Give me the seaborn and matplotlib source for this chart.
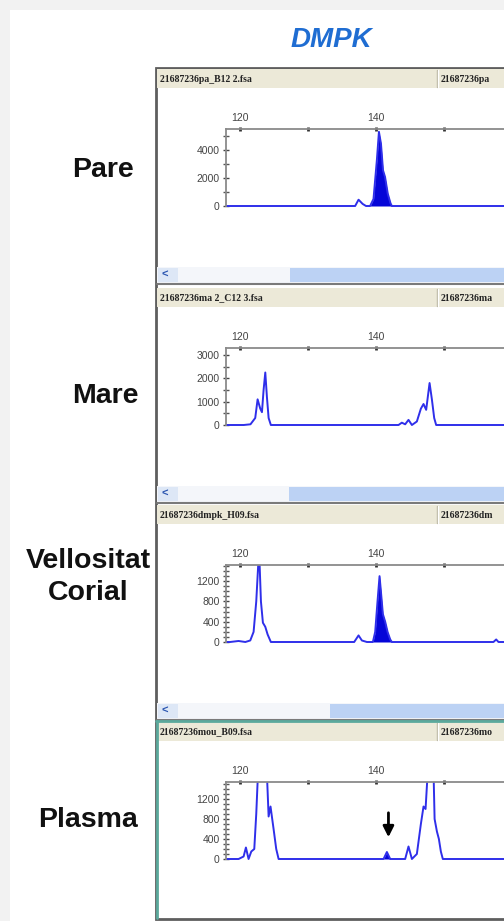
import matplotlib
matplotlib.use("Agg")
import matplotlib.pyplot as plt
from matplotlib.patches import Rectangle
import numpy as np
import seaborn as sns

sns.set_style("white")
plt.rcParams['font.family'] = ['Liberation Sans', 'DejaVu Sans']

W, H = 504, 921

title = "DMPK"
sample_names = ["Pare", "Mare", "Vellositat\nCorial", "Plasma"]
file_names = ["21687236pa_B12 2.fsa", "21687236ma 2_C12 3.fsa",
              "21687236dmpk_H09.fsa", "21687236mou_B09.fsa"]
file_tabs = ["21687236pa", "21687236ma", "21687236dm", "21687236mo"]

# size (bp) vs RFU
pare_bp = [117.9, 136.9, 137.4, 138.0, 138.5, 139.1, 139.6, 140.1, 140.4, 140.7,
           141.0, 141.3, 141.7, 142.1, 142.3, 158.8]
pare_rfu = [0, 0, 450, 150, 0, 0, 500, 3300, 5300, 4450,
            2550, 2070, 880, 200, 0, 0]
pare_fill = (139.1, 142.3)

mare_bp = [117.9, 120.5, 121.5, 122.2, 122.55, 122.94, 123.19, 123.43, 123.68, 123.92,
           124.17, 124.5, 143.28, 143.77, 144.26, 144.75, 145.25, 145.98, 146.57, 146.96,
           147.35, 147.85, 148.19, 148.53, 148.82, 158.8]
mare_rfu = [0, 0, 30, 300, 1100, 700, 550, 1500, 2250, 1200,
            300, 0, 0, 100, 30, 220, 0, 150, 700, 900,
            650, 1800, 1100, 300, 0, 0]
mare_fill = None

vc_bp = [117.9, 118.5, 119.75, 120.74, 121.47, 121.96, 122.35, 122.65, 122.84, 123.04,
         123.33, 123.68, 124.02, 124.5, 136.76, 137.4, 137.89, 138.63, 139.51, 139.85,
         140.19, 140.49, 140.69, 140.98, 141.32, 141.67, 142.06, 142.3, 157.25, 157.65,
         157.99, 158.8]
vc_rfu = [0, 0, 20, 0, 30, 200, 800, 1550, 1550, 800,
          380, 300, 150, 0, 0, 130, 30, 0, 0, 200,
          800, 1300, 1000, 550, 400, 200, 50, 0, 0, 50,
          0, 0]
vc_fill = (139.5, 142.3)

pl_bp = [117.9, 119.75, 120.49, 120.83, 121.22, 121.62, 122.06, 122.35, 122.6, 123.92,
         124.17, 124.45, 124.9, 125.29, 125.64, 141.08, 141.57, 142.06, 144.26, 144.75,
         145.25, 145.98, 146.57, 146.96, 147.26, 147.56, 148.44, 148.59, 148.93, 149.22,
         149.51, 149.8, 158.8]
pl_rfu = [0, 0, 50, 230, 0, 150, 200, 900, 1700, 1700,
          850, 1050, 600, 200, 0, 0, 140, 0, 0, 250,
          0, 100, 700, 1050, 1000, 1700, 1700, 800, 550, 400,
          150, 0, 0]
pl_fill = (141.0, 142.1)
pl_arrow_bp = 141.8
pl_arrow_rfu = (980, 380)

traces = [(pare_bp, pare_rfu, pare_fill), (mare_bp, mare_rfu, mare_fill),
          (vc_bp, vc_rfu, vc_fill), (pl_bp, pl_rfu, pl_fill)]
y_tops = [5500, 3300, 1520, 1540]
y_major = [2000, 1000, 400, 400]
y_minor = [1000, 500, 100, 100]
x_major = [120, 140]
x_minor = [130, 150]

header_tops = [69, 288, 505, 722]
thumb_starts = [290, 289, 330]
label_x = [103, 105, 88, 88]
label_y = [177, 403, 600, 827]

fig = plt.figure(figsize=(W / 100, H / 100), dpi=100)
fig.patch.set_facecolor('#f2f2f2')

deco = fig.add_axes([0, 0, 1, 1])
deco.set_xlim(0, W)
deco.set_ylim(H, 0)
deco.axis('off')
deco.set_zorder(0)

deco.add_patch(Rectangle((10, 10), W, H, color='white', lw=0))
deco.text(331, 47, title, ha='center', va='baseline', fontsize=20,
          fontweight='bold', fontstyle='italic', color='#1f6dd2')

# panel box
deco.add_patch(Rectangle((156, 68), 360, 851, facecolor='white',
                         edgecolor='#5e5e5e', lw=2))

for i, h in enumerate(header_tops):
    deco.add_patch(Rectangle((157, h), 350, 19, color='#ece9d8', lw=0))
    deco.plot([437, 437], [h + 1, h + 18], color='#b5b19c', lw=1)
    deco.plot([438, 438], [h + 1, h + 18], color='white', lw=1)
    deco.text(160, h + 10, file_names[i], ha='left', va='center', fontsize=7,
              fontweight='bold', family='Liberation Serif', color='#222222')
    deco.text(441, h + 10, file_tabs[i], ha='left', va='center', fontsize=7,
              fontweight='bold', family='Liberation Serif', color='#222222',
              clip_on=True)
    if i < 3:
        sy = h + 198
        deco.add_patch(Rectangle((157, sy), 350, 16, color='#f4f6fa', lw=0))
        deco.add_patch(Rectangle((158, sy + 1), 20, 14, color='#dde7f6', lw=0))
        deco.text(165, sy + 8, "<", ha='center', va='center', fontsize=8,
                  fontweight='bold', color='#2a55b0')
        deco.add_patch(Rectangle((thumb_starts[i], sy + 1), 220, 14,
                                 color='#bcd2f4', lw=0))
        deco.plot([157, W], [sy + 17, sy + 17], color='#7a7a7a', lw=1.5)

# selected panel frame
deco.plot([156, W], [721, 721], color='#5ba99c', lw=2)
deco.plot([157, 157], [721, 918], color='#5ba99c', lw=2)

for i, name in enumerate(sample_names):
    if "\n" in name:
        top, bottom = name.split("\n")
        deco.text(label_x[i], label_y[i] - 32, top, ha='center', va='baseline',
                  fontsize=20.5, fontweight='bold', color='#111111')
        deco.text(label_x[i], label_y[i], bottom, ha='center', va='baseline',
                  fontsize=20.5, fontweight='bold', color='#111111')
    else:
        deco.text(label_x[i], label_y[i], name, ha='center', va='baseline',
                  fontsize=20.5, fontweight='bold', color='#111111')

line_col = '#2f2fea'
fill_col = '#0505d8'

for i, (bp, rfu, fill) in enumerate(traces):
    h = header_tops[i]
    top_px = h + 60
    base_px = h + 137
    per_px = y_tops[i] / (base_px - top_px)
    ymin = -1.5 * per_px
    bottom_px = base_px + 1.5
    ax = fig.add_axes([226 / W, 1 - bottom_px / H, (W - 226) / W,
                       (bottom_px - top_px) / H])
    ax.set_zorder(2)
    ax.patch.set_alpha(0)

    bp = np.array(bp)
    rfu = np.array(rfu)
    sns.lineplot(x=bp, y=rfu, ax=ax, sort=False, estimator=None,
                 color=line_col, lw=1.4)
    if fill is not None:
        ax.fill_between(bp, rfu, where=(bp >= fill[0]) & (bp <= fill[1]),
                        color=fill_col, lw=0)

    ax.set_xlim(117.9, 158.8)
    ax.set_ylim(ymin, y_tops[i])
    ax.set_xlabel("")
    ax.set_ylabel("")

    for s in ['right', 'bottom']:
        ax.spines[s].set_visible(False)
    for s in ['top', 'left']:
        ax.spines[s].set_color('#8a8a8a')
        ax.spines[s].set_linewidth(1.3)
    ax.spines['left'].set_bounds(0, y_tops[i])

    ax.xaxis.tick_top()
    ax.set_xticks(x_major)
    ax.set_xticks(x_minor, minor=True)
    ax.tick_params(axis='x', which='both', direction='inout', length=3,
                   width=2, color='#333333', labelsize=7.5, labelcolor='#444444',
                   pad=3, bottom=False, top=True)
    ax.set_yticks(np.arange(0, y_tops[i] + 1, y_major[i]))
    ax.set_yticks(np.arange(0, y_tops[i] + 1, y_minor[i]), minor=True)
    ax.tick_params(axis='y', which='major', direction='inout', length=5,
                   width=1, color='#444444', labelsize=7.5, labelcolor='#444444',
                   pad=2, left=True)
    ax.tick_params(axis='y', which='minor', direction='inout', length=4,
                   width=1, color='#555555', left=True)

    if i == 3:
        ax.annotate('', xy=(pl_arrow_bp, pl_arrow_rfu[1]),
                    xytext=(pl_arrow_bp, pl_arrow_rfu[0]),
                    arrowprops=dict(arrowstyle='-|>', color='black', lw=2,
                                    mutation_scale=16))

fig.savefig("out.png", dpi=100, facecolor=fig.get_facecolor())
